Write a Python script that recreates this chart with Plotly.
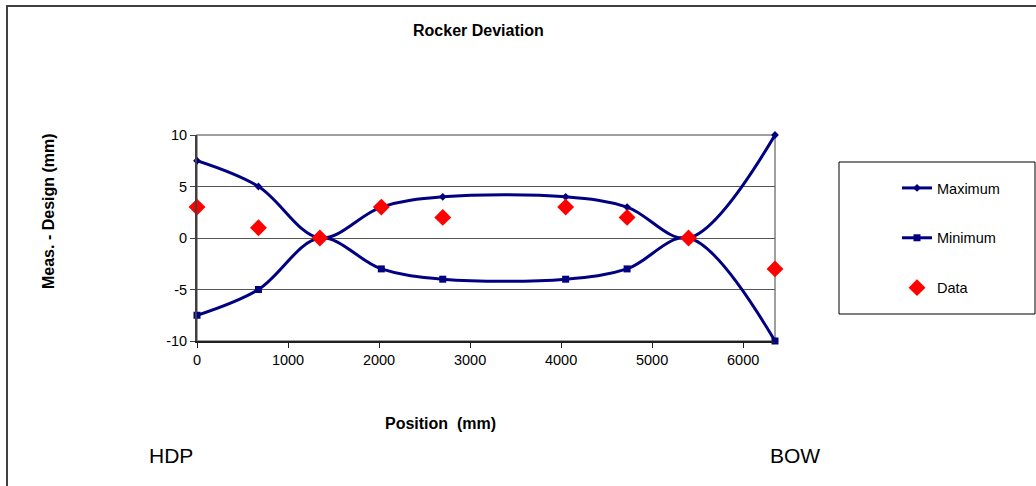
"""Rocker deviation chart: design tolerance envelope vs measured data."""

import plotly.graph_objects as go

# Positions along the hull (mm)
positions = [0, 675, 1350, 2025, 2700, 4050, 4725, 5400, 6350]

# Tolerance envelope (mm)
maximum = [7.5, 5, 0, 3, 4, 4, 3, 0, 10]
minimum = [-7.5, -5, 0, -3, -4, -4, -3, 0, -10]

# Measured minus design (mm)
data = [3, 1, 0, 3, 2, 3, 2, 0, -3]

x_ticks = [0, 1000, 2000, 3000, 4000, 5000, 6000]
y_ticks = [-10, -5, 0, 5, 10]
y_tick_labels = ["-10", "-5", "0", "5", "10"]

NAVY = "#000080"
RED = "#FF0000"
FONT = "Liberation Sans, Arial, sans-serif"

# plot area in pixels (matches the original sheet layout)
W, H = 1036, 486
PL, PR, PT, PB = 197, 775, 135, 341


def px_x(p):
    return (p - PL) / (PR - PL)


def px_y(p):
    return (PB - p) / (PB - PT)


fig = go.Figure()

fig.add_trace(
    go.Scatter(
        x=positions,
        y=maximum,
        name="Maximum",
        mode="lines+markers",
        line=dict(color=NAVY, width=3, shape="spline", smoothing=1),
        marker=dict(symbol="diamond", size=6, color=NAVY),
        legendgroup="max",
        cliponaxis=False,
    )
)
fig.add_trace(
    go.Scatter(
        x=positions,
        y=minimum,
        name="Minimum",
        mode="lines+markers",
        line=dict(color=NAVY, width=3, shape="spline", smoothing=1),
        marker=dict(symbol="square", size=7, color=NAVY),
        legendgroup="min",
        cliponaxis=False,
    )
)
fig.add_trace(
    go.Scatter(
        x=positions,
        y=data,
        name="Data",
        mode="markers",
        marker=dict(symbol="diamond", size=13, color=RED),
        legendgroup="data",
        cliponaxis=False,
    )
)

shapes = [
    # plot area border (grey, like Excel)
    dict(type="rect", xref="paper", yref="paper", x0=0, x1=1, y0=0, y1=1,
         line=dict(color="#808080", width=1.5), layer="below"),
    # chart area border, left and top edges
    dict(type="path", xref="paper", yref="paper",
         path=f"M {px_x(7)},{px_y(490)} L {px_x(7)},{px_y(6)} L {px_x(1040)},{px_y(6)}",
         line=dict(color="#404040", width=2)),
    # legend frame
    dict(type="rect", xref="paper", yref="paper",
         x0=px_x(839), x1=px_x(1035), y0=px_y(314), y1=px_y(162),
         line=dict(color="#000000", width=1)),
]


def label(text, x, y, size, bold=False, angle=0):
    return dict(
        text=f"<b>{text}</b>" if bold else text,
        x=px_x(x), y=px_y(y), xref="paper", yref="paper",
        xanchor="center", yanchor="middle", showarrow=False,
        textangle=angle, font=dict(size=size, color="black"),
    )


annotations = [
    label("Rocker Deviation", 478, 30, 16, bold=True),
    label("Position\u00a0 (mm)", 440, 423, 16, bold=True),
    label("Meas. - Design (mm)", 48, 211, 16, bold=True, angle=-90),
    label("HDP", 171, 455, 21),
    label("BOW", 795, 455, 21),
]

fig.update_layout(
    width=W,
    height=H,
    margin=dict(l=PL, r=W - PR, t=PT, b=H - PB),
    paper_bgcolor="white",
    plot_bgcolor="white",
    font=dict(family=FONT, size=14.5, color="black"),
    showlegend=True,
    legend=dict(
        x=px_x(897),
        y=px_y(172),
        xanchor="left",
        yanchor="top",
        bgcolor="rgba(0,0,0,0)",
        borderwidth=0,
        tracegroupgap=28,
        font=dict(size=14.5),
    ),
    shapes=shapes,
    annotations=annotations,
)

fig.update_xaxes(
    range=[0, 6350],
    tickvals=x_ticks,
    showgrid=False,
    zeroline=False,
    showline=True,
    linecolor="#202020",
    linewidth=1.5,
    ticks="outside",
    ticklen=5,
    tickcolor="#202020",
)
fig.update_yaxes(
    range=[-10, 10],
    tickvals=y_ticks,
    ticktext=y_tick_labels,
    showgrid=True,
    gridcolor="#555555",
    gridwidth=1,
    zeroline=False,
    showline=True,
    linecolor="#404040",
    linewidth=2,
    ticks="outside",
    ticklen=5,
    tickcolor="#404040",
)

# page body margin would shift the figure by 8px
fig.write_html(
    "out.html",
    config={"displayModeBar": False},
    post_script="document.body.style.margin='0';",
)
